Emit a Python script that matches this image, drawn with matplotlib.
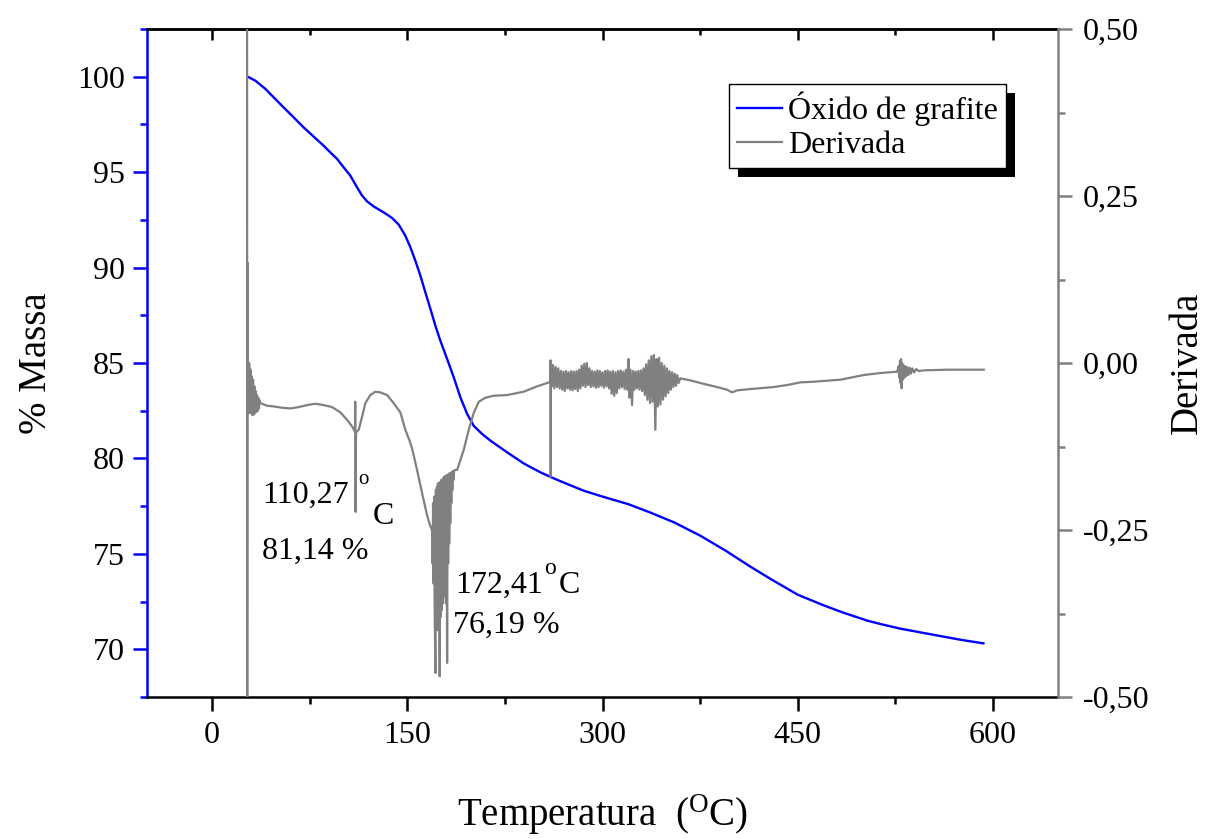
import matplotlib
matplotlib.use("Agg")
import matplotlib.pyplot as plt
from matplotlib.patches import Rectangle
from matplotlib.ticker import MultipleLocator, FixedLocator

plt.rcParams['font.family'] = ['Liberation Serif', 'DejaVu Serif']
plt.rcParams['mathtext.fontset'] = 'custom'
plt.rcParams['mathtext.rm'] = 'Liberation Serif'
plt.rcParams['mathtext.it'] = 'Liberation Serif:italic'

# ---------------- data ----------------
# TGA mass curve (blue)
mass_T = [27.4, 33.3, 41.0, 47.3, 55.0, 62.7, 70.4, 78.1, 85.8, 90.9, 96.1, 101.1,
          106.3, 111.4, 115.3, 119.1, 124.2, 131.9, 138.3, 143.4, 148.5, 152.4,
          156.2, 160.1, 163.9, 167.8, 171.6, 175.4, 180.6, 185.7, 190.8, 196.0,
          201.0, 207.5, 213.9, 226.7, 239.4, 252.3, 265.1, 277.9, 285.5, 300.0,
          320.0, 336.9, 355.0, 375.2, 395.0, 413.6, 430.0, 450.0, 470.0, 485.0,
          503.5, 515.0, 528.9, 554.3, 575.0, 592.7]
mass_pct = [100.0, 99.79, 99.36, 98.92, 98.39, 97.87, 97.34, 96.86, 96.38, 96.03,
            95.69, 95.25, 94.81, 94.20, 93.77, 93.47, 93.20, 92.89, 92.60, 92.25,
            91.67, 91.06, 90.36, 89.57, 88.70, 87.83, 86.95, 86.17, 85.21, 84.25,
            83.20, 82.33, 81.71, 81.28, 80.93, 80.32, 79.74, 79.27, 78.88, 78.52,
            78.31, 78.00, 77.60, 77.16, 76.65, 75.95, 75.15, 74.33, 73.65, 72.86,
            72.30, 71.92, 71.50, 71.30, 71.08, 70.76, 70.50, 70.31]

# Derivative curve (gray)
deriv_T = [26.9, 27.0, 27.2, 27.5, 28.0, 28.5, 29.0, 29.5, 30.0, 30.5, 31.0, 31.5,
           32.0, 32.5, 33.0, 33.5, 34.0, 34.5, 35.0, 35.5, 36.0, 36.5, 37.1,
           42.3, 47.3, 53.8, 60.2, 66.5, 73.0, 79.4, 85.8, 92.2, 98.6, 103.7, 107.6,
           109.8, 110.0, 110.3, 110.6, 112.7, 115.3, 117.8, 121.6, 125.5, 129.3,
           134.5, 139.5, 144.7, 148.5, 151.5, 153.7, 157.5, 161.4, 165.2, 167.5,
           169.0,
           169.4, 169.8, 170.2, 170.6, 171.0, 171.6, 172.0, 172.4, 172.8, 173.2,
           173.6, 174.0, 174.4, 174.9, 175.3, 175.7, 176.1, 176.5, 176.9, 177.3,
           177.7, 178.1, 178.5, 178.9, 179.3, 179.7, 180.2, 180.6, 181.0, 181.4,
           181.8, 182.2, 182.6, 183.0, 183.4, 183.8, 184.2, 184.6, 185.0, 185.5,
           186.0, 187.0,
           188.3, 193.4, 197.2, 201.0, 204.9, 210.0, 216.4, 226.7, 239.4, 249.7,
           257.4, 259.8, 260.0, 260.2, 260.4,
           260.6, 261, 262, 263, 264, 265, 266, 267, 268, 269, 270, 271, 272, 273,
           274, 275, 276, 277, 278, 279, 280, 281, 282, 283, 284, 285, 286, 287,
           288, 289, 290, 291, 292, 293, 294, 295, 296, 297, 298, 299, 300, 301,
           302, 303, 304, 305, 306, 307, 308, 309, 310, 311, 312, 313, 314, 315,
           316, 317, 318, 319, 320, 320.7, 321.5, 322.7, 323.5, 324.5, 325.5,
           326.5, 327.5, 328.5, 329.5, 330.5, 331.5, 332.5, 333.5, 334.5, 335.5,
           336.5, 337.5, 338.5, 339.5, 340.6, 341.5, 342.5, 343.5, 344.5, 345.5,
           346.5, 347.5, 348.5, 349.5, 350.5, 351.5, 352.5, 353.5, 354.5, 355.5,
           356.5, 357.5, 358.5, 359.8,
           367.5, 375.2, 388.0, 395.7, 399.6, 403.4, 413.6, 431.6, 441.8, 452.1,
           462.3, 482.8, 493.0, 500.7, 513.5, 526.4,
           527.5, 528.0, 528.6, 529.0, 529.4, 529.8, 530.2, 530.7, 531.2, 531.8,
           532.5, 533.2, 534, 535, 536, 537, 538, 539.5, 541, 543, 547, 565, 593]
deriv_val = [0.60, -0.60, 0.15, -0.01, -0.07, 0.00, -0.075, -0.01, -0.075, -0.02,
             -0.078, -0.025, -0.077, -0.035, -0.075, -0.042, -0.073, -0.048, -0.072,
             -0.052, -0.068, -0.056, -0.060,
             -0.064, -0.065, -0.067, -0.068, -0.066, -0.063, -0.061, -0.063, -0.066,
             -0.074, -0.085, -0.095, -0.103, -0.058, -0.223, -0.104, -0.100, -0.080,
             -0.060, -0.048, -0.043, -0.044, -0.048, -0.060, -0.074, -0.100, -0.115,
             -0.128, -0.160, -0.195, -0.228, -0.243, -0.250,
             -0.30, -0.21, -0.33, -0.20, -0.36, -0.464, -0.19, -0.38, -0.185, -0.40,
             -0.18, -0.37, -0.18, -0.469, -0.178, -0.38, -0.175, -0.37, -0.175,
             -0.36, -0.172, -0.35, -0.17, -0.34, -0.17, -0.36, -0.168, -0.449,
             -0.168, -0.30, -0.166, -0.27, -0.165, -0.24, -0.165, -0.21, -0.163,
             -0.19, -0.162, -0.175, -0.161, -0.160,
             -0.160, -0.130, -0.100, -0.075, -0.058, -0.052, -0.049, -0.048, -0.043,
             -0.035, -0.030, -0.028, 0.004, -0.170, -0.010,
             -0.005, -0.035, -0.003, -0.038, -0.006, -0.036, -0.008, -0.038, -0.012,
             -0.040, -0.013, -0.042, -0.012, -0.038, -0.014, -0.040, -0.012, -0.041,
             -0.013, -0.039, -0.012, -0.042, -0.010, -0.038, -0.004, -0.034, -0.001,
             -0.036, 0.000, -0.033, -0.008, -0.036, -0.012, -0.035, -0.013, -0.037,
             -0.011, -0.036, -0.012, -0.034, -0.014, -0.037, -0.012, -0.035, -0.011,
             -0.038, -0.013, -0.046, -0.012, -0.049, -0.014, -0.045, -0.012, -0.038,
             -0.011, -0.036, -0.013, -0.039, -0.010, -0.040, 0.006, -0.052, -0.010,
             -0.063, -0.012, -0.040, -0.013, -0.038, -0.012, -0.040, -0.011, -0.042,
             -0.008, -0.048, -0.002, -0.055, 0.004, -0.060, 0.010, -0.058, 0.012,
             -0.100, 0.006, -0.065, 0.008, -0.062, 0.000, -0.055, -0.004, -0.050,
             -0.008, -0.045, -0.012, -0.040, -0.014, -0.036, -0.016, -0.034, -0.018,
             -0.030, -0.023,
             -0.026, -0.030, -0.036, -0.040, -0.044, -0.041, -0.039, -0.036, -0.033,
             -0.029, -0.028, -0.025, -0.021, -0.018, -0.015, -0.013,
             -0.005, -0.022, 0.003, -0.030, 0.006, -0.038, 0.000, -0.025, -0.003,
             -0.022, -0.005, -0.020, -0.006, -0.018, -0.007, -0.016, -0.008, -0.014,
             -0.009, -0.012, -0.011, -0.010, -0.010]

x_ticks = [0, 150, 300, 450, 600]
x_ticklabels = ['0', '150', '300', '450', '600']
left_ticks = [70, 75, 80, 85, 90, 95, 100]
left_ticklabels = ['70', '75', '80', '85', '90', '95', '100']
right_ticks = [-0.50, -0.25, 0.00, 0.25, 0.50]
right_ticklabels = ['-0,50', '-0,25', '0,00', '0,25', '0,50']

series_labels = ['Óxido de grafite', 'Derivada']

# ---------------- figure ----------------
W, H = 1207, 839
fig = plt.figure(figsize=(W / 100, H / 100), dpi=100)
L, R, B, T = 147, 1058, 697, 29
ax = fig.add_axes([L / W, 1 - B / H, (R - L) / W, (B - T) / H])
ax2 = ax.twinx()
ax.set_facecolor('none')
ax2.set_facecolor('none')

BLUE = '#0000FF'
GRAY = '#808080'
FS = 23

l2, = ax2.plot(deriv_T, deriv_val, color=GRAY, lw=1.6, zorder=2,
               solid_joinstyle='round')
l1, = ax.plot(mass_T, mass_pct, color=BLUE, lw=1.7, zorder=3,
              solid_joinstyle='round')

ax.set_xlim(-50, 650)
ax.set_ylim(67.5, 102.5)
ax2.set_ylim(-0.5, 0.5)

# spines
for s in ['left', 'bottom', 'top']:
    ax.spines[s].set_linewidth(1.8)
ax.spines['left'].set_color(BLUE)
ax.spines['right'].set_visible(False)
for s in ['left', 'bottom', 'top']:
    ax2.spines[s].set_visible(False)
ax2.spines['right'].set_color(GRAY)
ax2.spines['right'].set_linewidth(1.8)

# x ticks
ax.xaxis.set_major_locator(FixedLocator(x_ticks))
ax.set_xticklabels(x_ticklabels)
ax.xaxis.set_minor_locator(MultipleLocator(75))
ax.tick_params(axis='x', which='major', direction='out', length=10, width=1.8,
               labelsize=FS, pad=7, colors='black')
ax.tick_params(axis='x', which='minor', direction='out', length=5, width=1.8)
top = ax.secondary_xaxis('top')
top.xaxis.set_major_locator(FixedLocator(x_ticks))
top.xaxis.set_minor_locator(MultipleLocator(75))
top.tick_params(axis='x', which='major', direction='in', length=8, width=1.8,
                labeltop=False)
top.tick_params(axis='x', which='minor', direction='in', length=4, width=1.8)
top.spines['top'].set_linewidth(1.8)

# left ticks
ax.yaxis.set_major_locator(FixedLocator(left_ticks))
ax.set_yticklabels(left_ticklabels)
ax.yaxis.set_minor_locator(MultipleLocator(2.5))
ax.tick_params(axis='y', which='major', direction='out', length=10, width=1.8,
               color=BLUE, labelcolor='black', labelsize=FS, pad=6)
ax.tick_params(axis='y', which='minor', direction='out', length=5, width=1.8,
               color=BLUE)

# right ticks
ax2.yaxis.set_major_locator(FixedLocator(right_ticks))
ax2.set_yticklabels(right_ticklabels)
ax2.yaxis.set_minor_locator(MultipleLocator(0.125))
ax2.tick_params(axis='y', which='major', direction='out', length=10, width=1.8,
                color=GRAY, labelcolor='black', labelsize=FS, pad=8)
ax2.tick_params(axis='y', which='minor', direction='out', length=5, width=1.8,
                color=GRAY)

# axis labels
ax.set_xlabel('Temperatura  ($^{\\mathrm{O}}$C)', fontsize=28, labelpad=31)
ax.set_ylabel('% Massa', fontsize=28, labelpad=16)
ax2.set_ylabel('Derivada', fontsize=28, labelpad=14)

# annotations (left-axis data coordinates)
ax.text(38.7, 77.68, '110,27', fontsize=FS, ha='left', va='baseline')
ax.text(112.4, 78.67, 'o', fontsize=15, ha='left', va='baseline')
ax.text(131.6, 76.58, 'C', fontsize=FS, ha='center', va='baseline')
ax.text(38.7, 74.75, '81,14 %', fontsize=FS, ha='left', va='baseline')
ax.text(187.0, 72.96, '172,41', fontsize=FS, ha='left', va='baseline')
ax.text(255.0, 73.96, 'o', fontsize=17, ha='left', va='baseline')
ax.text(266.0, 72.96, 'C', fontsize=FS, ha='left', va='baseline')
ax.text(185.4, 70.87, '76,19 %', fontsize=FS, ha='left', va='baseline')

# legend
leg = ax2.legend([l1, l2], series_labels, loc='upper left',
                 bbox_to_anchor=(0.639, 0.918), borderaxespad=0, fontsize=FS,
                 frameon=True, fancybox=False, shadow=False, framealpha=1,
                 handlelength=1.4, handletextpad=0.2, borderpad=0.25,
                 labelspacing=0.15)
leg.get_frame().set_edgecolor('black')
leg.get_frame().set_linewidth(1.0)
leg.set_zorder(6)

fig.canvas.draw()
bb = leg.get_window_extent(fig.canvas.get_renderer())
inv = ax2.transAxes.inverted()
(x0, y0) = inv.transform((bb.x0 + 9, bb.y0 - 9))
(x1, y1) = inv.transform((bb.x1 + 9, bb.y1 - 9))
ax2.add_patch(Rectangle((x0, y0), x1 - x0, y1 - y0, transform=ax2.transAxes,
                        facecolor='black', edgecolor='none', zorder=5,
                        clip_on=False))

fig.savefig('out.png', dpi=100)
